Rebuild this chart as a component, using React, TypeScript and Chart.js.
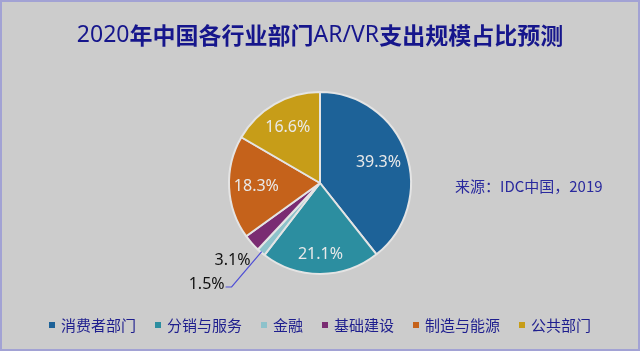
import React, { useEffect, useRef } from "react";
import { Chart, registerables } from "chart.js";

Chart.register(...registerables);

const categories = ["消费者部门", "分销与服务", "金融", "基础建设", "制造与能源", "公共部门"];
const shares = [39.3, 21.1, 1.5, 3.1, 18.3, 16.6];
const pctLabels = ["39.3%", "21.1%", "1.5%", "3.1%", "18.3%", "16.6%"];
const colors = ["#1d6298", "#2c8ea0", "#8dc2cb", "#7a2c72", "#c5621b", "#c79d18"];
const titleParts = ["2020", "年中国各行业部门", "AR/VR", "支出规模占比预测"];
const sourceText = "来源：IDC中国，2019";

const CJK = '"Noto Sans CJK SC", "Noto Sans", sans-serif';
const LATIN = '"Noto Sans", "Open Sans", sans-serif';

const decorPlugin = {
  id: "decor",
  beforeDraw(chart: any) {
    const { ctx, width, height } = chart;
    ctx.save();
    ctx.fillStyle = "#cccccc";
    ctx.fillRect(0, 0, width, height);
    ctx.strokeStyle = "#a2a2d4";
    ctx.lineWidth = 2;
    ctx.strokeRect(1, 1, width - 2, height - 2);
    ctx.restore();
  },
  afterDraw(chart: any) {
    const { ctx, width } = chart;
    ctx.save();
    // title (latin parts regular, CJK parts bold)
    const fonts = titleParts.map((_, i) => (i % 2 === 0 ? `23px ${LATIN}` : `bold 23px ${CJK}`));
    const tw = titleParts.map((t, i) => {
      ctx.font = fonts[i];
      return ctx.measureText(t).width;
    });
    let tx = width / 2 - tw.reduce((a, b) => a + b, 0) / 2;
    ctx.fillStyle = "#16168c";
    ctx.textAlign = "left";
    ctx.textBaseline = "middle";
    titleParts.forEach((t, i) => {
      ctx.font = fonts[i];
      ctx.fillText(t, tx, 35);
      tx += tw[i];
    });

    // source
    ctx.font = `15px ${CJK}`;
    ctx.fillStyle = "#2a2a9e";
    ctx.textAlign = "left";
    ctx.fillText(sourceText, 455, 186);

    // slice labels
    const meta = chart.getDatasetMeta(0);
    const inFactor = [0.68, 0.78, 0, 0, 0.7, 0.71];
    meta.data.forEach((arc: any, i: number) => {
      const p = arc.getProps(["x", "y", "startAngle", "endAngle", "outerRadius"], true);
      const mid = (p.startAngle + p.endAngle) / 2;
      const cx = Math.cos(mid);
      const cy = Math.sin(mid);
      ctx.textBaseline = "middle";
      ctx.font = `16px ${LATIN}`;
      if (inFactor[i] > 0) {
        ctx.fillStyle = "#e9e9e9";
        ctx.textAlign = "center";
        const d = p.outerRadius * inFactor[i];
        ctx.fillText(pctLabels[i], p.x + cx * d, p.y + cy * d);
      } else if (i === 3) {
        ctx.fillStyle = "#111111";
        ctx.textAlign = "center";
        const d = p.outerRadius * 1.28;
        ctx.fillText(pctLabels[i], p.x + cx * d, p.y + cy * d);
      } else if (i === 2) {
        const r0 = p.outerRadius * 0.99;
        const r1 = p.outerRadius * 1.5;
        const x0 = p.x + cx * r0;
        const y0 = p.y + cy * r0;
        const x1 = p.x + cx * r1;
        const y1 = p.y + cy * r1;
        ctx.strokeStyle = "#4f4fd6";
        ctx.lineWidth = 1.2;
        ctx.beginPath();
        ctx.moveTo(x0, y0);
        ctx.lineTo(x1, y1);
        ctx.lineTo(x1 - 6, y1);
        ctx.stroke();
        ctx.fillStyle = "#111111";
        ctx.textAlign = "right";
        ctx.fillText(pctLabels[i], x1 - 7, y1 - 3);
      }
    });

    // legend
    ctx.font = `15px ${CJK}`;
    const sq = 6;
    const gapSq = 6;
    const gapItem = 19;
    const widths = categories.map((c) => ctx.measureText(c).width);
    const total = widths.reduce((a, w) => a + sq + gapSq + w, 0) + gapItem * (categories.length - 1);
    let x = width / 2 - total / 2;
    const ly = 325;
    ctx.textAlign = "left";
    ctx.textBaseline = "middle";
    categories.forEach((c, i) => {
      ctx.fillStyle = colors[i];
      ctx.fillRect(x, ly - sq / 2, sq, sq);
      x += sq + gapSq;
      ctx.fillStyle = "#1e1e8e";
      ctx.fillText(c, x, ly);
      x += widths[i] + gapItem;
    });
    ctx.restore();
  },
};

export default function App() {
  const ref = useRef<HTMLCanvasElement>(null);
  useEffect(() => {
    if (!ref.current) return;
    const chart = new Chart(ref.current, {
      type: "pie",
      data: {
        labels: categories,
        datasets: [
          {
            data: shares,
            backgroundColor: colors,
            borderColor: "#e4e4e4",
            borderWidth: 2,
          },
        ],
      },
      options: {
        responsive: false,
        animation: false,
        layout: { padding: { top: 91, bottom: 76, left: 0, right: 0 } },
        plugins: {
          legend: { display: false },
          title: { display: false },
          tooltip: { enabled: false },
        },
      },
      plugins: [decorPlugin],
    });
    return () => chart.destroy();
  }, []);
  return (
    <div style={{ position: "fixed", left: 0, top: 0, width: 640, height: 351 }}>
      <canvas ref={ref} width={640} height={351} />
    </div>
  );
}
